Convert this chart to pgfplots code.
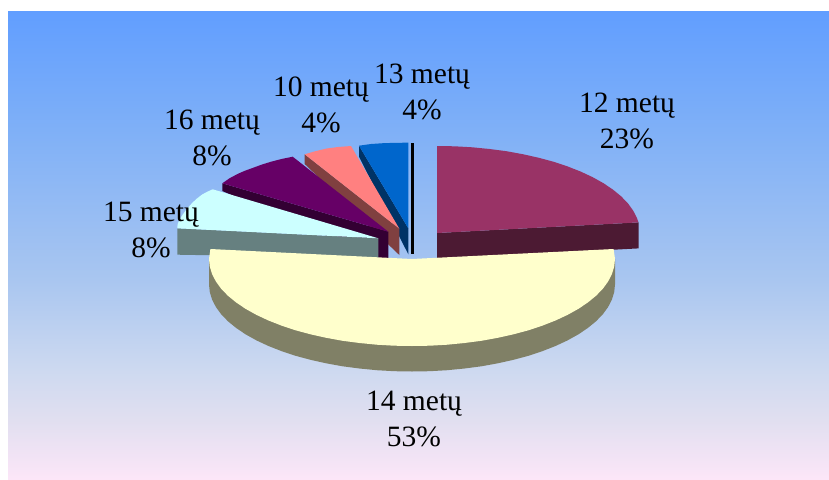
\documentclass[border=0pt]{standalone}
\usepackage{fontspec}
\setmainfont{Liberation Serif}
\usepackage{pgfplots}
\pgfplotsset{compat=1.18}
\definecolor{bgA}{HTML}{619EFF}
\definecolor{bgB}{HTML}{7FB0F7}
\definecolor{bgC}{HTML}{A9C6F0}
\definecolor{bgD}{HTML}{CDD9F0}
\definecolor{bgE}{HTML}{E1DFF0}
\definecolor{bgF}{HTML}{FCE6F8}
% stops 25bp..75bp span the reference's y=479..11
\pgfdeclareverticalshading{chartbg}{100bp}{
  color(0bp)=(bgF); color(25bp)=(bgF); color(31.3bp)=(bgE); color(36.7bp)=(bgD);
  color(46.3bp)=(bgC); color(62.3bp)=(bgB); color(75bp)=(bgA); color(100bp)=(bgA)}
\definecolor{c12}{HTML}{993366}
\definecolor{c12s}{HTML}{4C1A33}
\definecolor{c14}{HTML}{FFFFCC}
\definecolor{c14s}{HTML}{808066}
\definecolor{c15}{HTML}{CCFFFF}
\definecolor{c15s}{HTML}{668080}
\definecolor{c16}{HTML}{660066}
\definecolor{c16s}{HTML}{330033}
\definecolor{c10}{HTML}{FF8080}
\definecolor{c10s}{HTML}{804040}
\definecolor{c13}{HTML}{0066CC}
\definecolor{c13s}{HTML}{003366}
\tikzset{lbl/.style={font=\fontsize{29.5}{35.5}\selectfont, align=center, text=black, inner sep=0pt}}
\begin{document}
\begin{tikzpicture}
\begin{axis}[
  scale only axis, width=829pt, height=479pt,
  xmin=0, xmax=829, ymin=0, ymax=479, y dir=reverse,
  hide axis,
]
\path (axis cs:0,0) rectangle (axis cs:829,479);
\addplot[draw=none, shading=chartbg] coordinates {(8,11)(829,11)(829,479)(8,479)} -- cycle;

% 13 metu: wall, top, black bar
\addplot[draw=none, fill=c13s] coordinates {(359,145.7)(359,156.7)(408.3,254.3)(408.3,228.3)} -- cycle;
\addplot[draw=none, fill=c13] coordinates {(359,145.7)(371,144)(383,143.2)(396,142.8)(408.3,142.7)(408.3,228.3)} -- cycle;
\addplot[draw=none, fill=black] coordinates {(411,142.7)(414,142.7)(414,254.3)(411,254.3)} -- cycle;

% 10 metu
\addplot[draw=none, fill=c10s] coordinates {(304.7,154.3)(304.7,164)(399.3,255)(399.3,228.7)} -- cycle;
\addplot[draw=none, fill=c10] coordinates {(304.7,154.3)(315,151.3)(326.7,148.5)(338,147)(351,146)(399.3,228.7)} -- cycle;

% 16 metu
\addplot[draw=none, fill=c16s] coordinates {(222.3,183.3)(222.3,191)(378.3,258)(388.3,258)(388.3,231.7)} -- cycle;
\addplot[draw=none, fill=c16] coordinates {(222.3,183.3)(229.5,178.3)(237.5,174)(245,170.7)(252.5,168)(262,164.5)(271.8,161.5)(282,158.9)(292.7,156.7)(388.3,231.7)} -- cycle;

% 15 metu
\addplot[draw=none, fill=c15s] coordinates {(177.3,228.3)(177.3,254.7)(378.3,258)(378.3,238.3)} -- cycle;
\addplot[draw=none, fill=c15] coordinates {(177.3,228.3)(177.6,224.2)(179.4,220.1)(182,215.6)(185,211.4)(188.6,207)(192.5,202.6)(197.2,198.3)(202.2,194.5)(207.3,191.7)(212.7,189.3)(378.3,238.3)} -- cycle;

% 12 metu
\addplot[draw=none, fill=c12s] coordinates {(437,233)(638.5,222.4)(638.5,248.4)(437,259)} -- cycle;
\addplot[draw=none, fill=c12] coordinates {(437,233)(437,146)(454.7,146.3)(472.3,147.3)(489.6,149)(506.4,151.2)(522.8,154.2)(538.5,157.7)(553.4,161.7)(567.5,166.4)(580.5,171.5)(592.5,177.1)(603.3,183.1)(612.8,189.5)(621,196.2)(627.8,203.2)(633.1,210.5)(636.9,217.9)(638.5,222.4)} -- cycle;

% 14 metu
\addplot[draw=none, fill=c14s] coordinates {(615,259)(615,284.5)(614.2,292.1)(611.9,299.6)(608.1,307)(602.8,314.3)(596,321.3)(587.8,328)(578.3,334.4)(567.5,340.4)(555.5,346)(542.5,351.1)(528.4,355.8)(513.5,359.8)(497.8,363.3)(481.4,366.3)(464.5,368.5)(447.3,370.2)(429.7,371.2)(412,371.5)(394.3,371.2)(376.7,370.2)(359.5,368.5)(342.6,366.3)(326.2,363.3)(310.5,359.8)(295.6,355.8)(281.5,351.1)(268.5,346)(256.5,340.4)(245.7,334.4)(236.2,328)(228,321.3)(221.2,314.3)(215.9,307)(212.1,299.6)(209.8,292.1)(209,284.5)(209,259)} -- cycle;
\addplot[draw=none, fill=c14] coordinates {(412,259)(613.6,249)(615,259)(614.2,266.6)(611.9,274.1)(608.1,281.5)(602.8,288.8)(596,295.8)(587.8,302.5)(578.3,308.9)(567.5,314.9)(555.5,320.5)(542.5,325.6)(528.4,330.3)(513.5,334.3)(497.8,337.8)(481.4,340.8)(464.5,343)(447.3,344.7)(429.7,345.7)(412,346)(394.3,345.7)(376.7,344.7)(359.5,343)(342.6,340.8)(326.2,337.8)(310.5,334.3)(295.6,330.3)(281.5,325.6)(268.5,320.5)(256.5,314.9)(245.7,308.9)(236.2,302.5)(228,295.8)(221.2,288.8)(215.9,281.5)(212.1,274.1)(209.8,266.6)(209,259)(210.4,249)} -- cycle;

\node[lbl] at (axis cs:627,121) {12 metų\\23\%};
\node[lbl] at (axis cs:422,92) {13 metų\\4\%};
\node[lbl] at (axis cs:321,105) {10 metų\\4\%};
\node[lbl] at (axis cs:212,138) {16 metų\\8\%};
\node[lbl] at (axis cs:151,230) {15 metų\\8\%};
\node[lbl] at (axis cs:414,419) {14 metų\\53\%};
\end{axis}
\end{tikzpicture}
\end{document}
